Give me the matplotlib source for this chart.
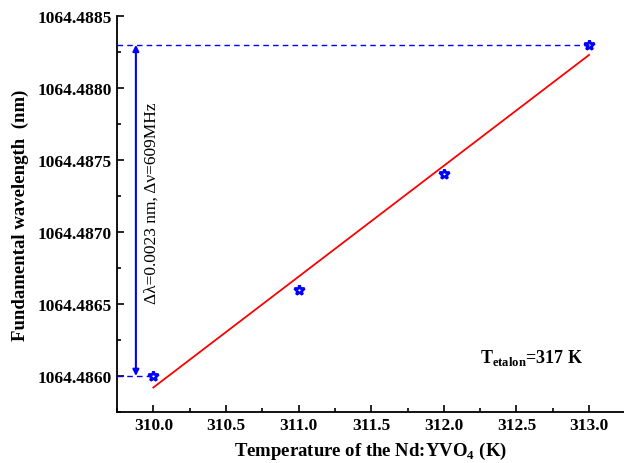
import numpy as np
import matplotlib
matplotlib.use("Agg")
import matplotlib.pyplot as plt
from matplotlib.ticker import MultipleLocator, FormatStrFormatter

plt.rcParams['font.family'] = ['Liberation Serif', 'DejaVu Serif']
plt.rcParams['mathtext.fontset'] = 'custom'
plt.rcParams['mathtext.rm'] = 'Liberation Serif'
plt.rcParams['mathtext.bf'] = 'Liberation Serif:bold'

# measured data
temperature = [310.0, 311.0, 312.0, 313.0]
wavelength = [1064.4860, 1064.4866, 1064.4874, 1064.4883]

# linear fit through the points
slope, intercept = np.polyfit(temperature, wavelength, 1)
fit_x = np.array([temperature[0], temperature[-1]])
fit_y = slope * fit_x + intercept

fig = plt.figure(figsize=(6.24, 4.64), dpi=100)
ax = fig.add_axes([117 / 624, 51 / 464, 507 / 624, 396 / 464])

x_lo, x_hi = 309.75, 313.24
y_lo, y_hi = 1064.48575, 1064.4885

ax.plot(fit_x, fit_y, color='red', lw=1.3, zorder=2)
ax.plot(temperature, wavelength, linestyle='none', marker='*', ms=7,
        markerfacecolor='none', markeredgecolor='blue', markeredgewidth=2.0, zorder=3)

# dashed guide lines for min / max wavelength
w_min, w_max = wavelength[0], wavelength[-1]
ax.plot([x_lo, temperature[-1]], [w_max, w_max], color='blue', lw=1, dashes=(4, 3))
ax.plot([x_lo, temperature[0] - 0.03], [w_min, w_min], color='blue', lw=1, dashes=(4, 3))

# double arrow
arrow_x = 309.88
ax.annotate('', xy=(arrow_x, w_max), xytext=(arrow_x, w_min),
            arrowprops=dict(arrowstyle='<|-|>', color='blue', lw=1.5,
                            mutation_scale=9, shrinkA=0, shrinkB=0))
ax.text(309.99, (w_min + w_max) / 2 + 0.00006, 'Δλ=0.0023 nm, Δν=609MHz',
        rotation=90, ha='center', va='center', fontsize=12.5)

ax.text(312.25, 1064.48613, r'T$_{\mathbf{etalon}}$=317 K', fontsize=13,
        fontweight='bold', ha='left', va='center')

ax.set_xlim(x_lo, x_hi)
ax.set_ylim(y_lo, y_hi)
ax.xaxis.set_major_locator(MultipleLocator(0.5))
ax.xaxis.set_minor_locator(MultipleLocator(0.25))
ax.yaxis.set_major_locator(MultipleLocator(0.0005))
ax.yaxis.set_minor_locator(MultipleLocator(0.00025))
ax.xaxis.set_major_formatter(FormatStrFormatter('%.1f'))
ax.yaxis.set_major_formatter(FormatStrFormatter('%.4f'))

ax.tick_params(which='both', direction='in', top=False, right=False, labelsize=12.5)
ax.tick_params(which='major', length=5, width=1.2)
ax.tick_params(which='minor', length=3, width=1.2)
for lbl in ax.get_xticklabels() + ax.get_yticklabels():
    lbl.set_fontweight('bold')

ax.spines['top'].set_visible(False)
ax.spines['right'].set_visible(False)
ax.spines['left'].set_linewidth(1.3)
ax.spines['bottom'].set_linewidth(1.3)

ax.set_xlabel(r'Temperature of the Nd:YVO$_{\mathbf{4}}$ (K)', fontsize=13.5, fontweight='bold', labelpad=5)
ax.set_ylabel('Fundamental wavelength  (nm)', fontsize=13.5, fontweight='bold', labelpad=6)

fig.savefig('out.png', dpi=100)
